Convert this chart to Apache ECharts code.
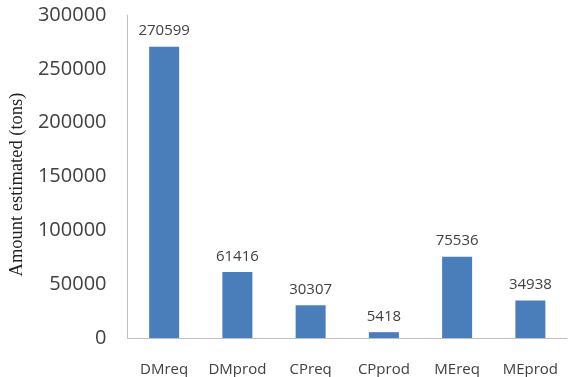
<!DOCTYPE html>
<html>
<head>
<meta charset="utf-8">
<script src="https://cdn.jsdelivr.net/npm/echarts@6/dist/echarts.min.js"></script>
<style>
  html, body { margin: 0; padding: 0; background: #fff; }
  #chart { width: 572px; height: 377px; }
</style>
</head>
<body>
<div id="chart"></div>
<script>
// Estimated amounts per category (tons)
const categories = ['DMreq', 'DMprod', 'CPreq', 'CPprod', 'MEreq', 'MEprod'];
const amounts = [270599, 61416, 30307, 5418, 75536, 34938];
const yTicks = { min: 0, max: 300000, interval: 50000 };
const yTitle = 'Amount estimated (tons)';

const chart = echarts.init(document.getElementById('chart'));
chart.setOption({
  animation: false,
  grid: { left: 123, top: 15, right: 5, bottom: 37 },
  xAxis: {
    type: 'category',
    data: categories,
    axisLine: { show: true, lineStyle: { color: '#bfbfbf', width: 1 } },
    axisTick: { show: false },
    axisLabel: {
      interval: 0,
      margin: 24,
      color: '#404040',
      fontFamily: 'Open Sans',
      fontSize: 15
    }
  },
  yAxis: {
    type: 'value',
    min: yTicks.min,
    max: yTicks.max,
    interval: yTicks.interval,
    name: yTitle,
    nameLocation: 'middle',
    nameGap: 99,
    nameTextStyle: {
      color: '#222',
      fontFamily: 'Liberation Serif',
      fontSize: 18.5,
      padding: [0, 16, 0, 0]
    },
    axisLine: { show: true, lineStyle: { color: '#bfbfbf', width: 1 } },
    axisTick: { show: false },
    splitLine: { show: false },
    axisLabel: {
      margin: 21,
      color: '#404040',
      fontFamily: 'Open Sans',
      fontSize: 20,
      formatter: (v) => String(v)
    }
  },
  series: [{
    type: 'bar',
    data: amounts,
    barWidth: 30,
    itemStyle: { color: '#4a7ebb' },
    label: {
      show: true,
      position: 'top',
      distance: 8,
      color: '#404040',
      fontFamily: 'Open Sans',
      fontSize: 15
    }
  }]
});
</script>
</body>
</html>
